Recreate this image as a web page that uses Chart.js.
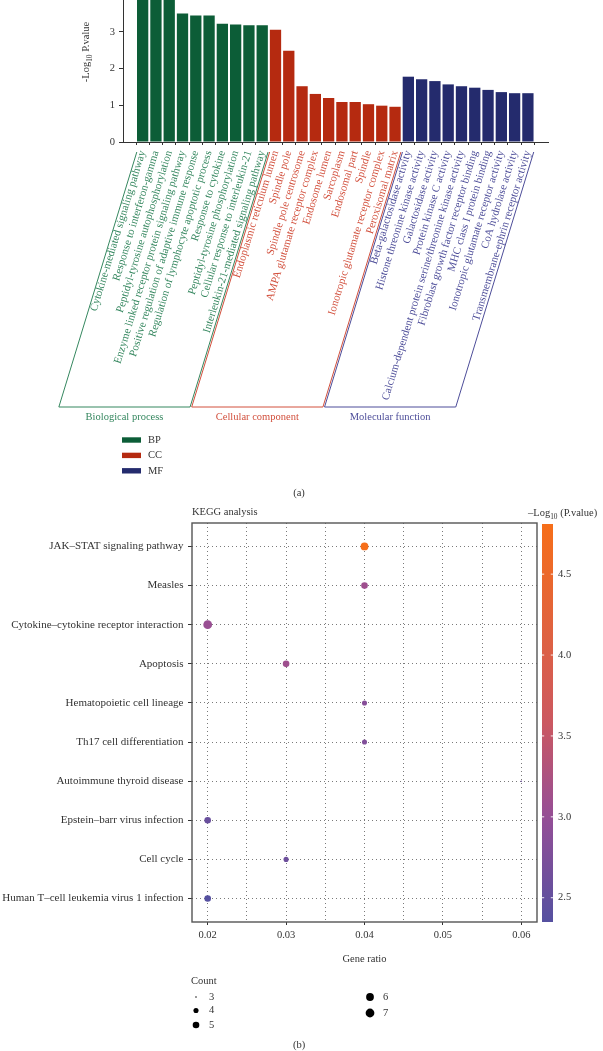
<!DOCTYPE html>
<html><head><meta charset="utf-8">
<script src="https://cdn.jsdelivr.net/npm/chart.js@4"></script>
<style>
html,body{margin:0;padding:0;background:#fff;width:603px;height:1051px;overflow:hidden}
#wa{position:absolute;left:0;top:0;width:603px;height:500px}
#wb{position:absolute;left:0;top:500px;width:603px;height:551px}
</style></head><body>
<div id="wa"><canvas id="ca"></canvas></div>
<div id="wb"><canvas id="cb"></canvas></div>
<script>
// ---------- Panel (a): GO enrichment ----------
const bpTerms = ['Cytokine-mediated signaling pathway','Response to interferon-gamma','Peptidyl-tyrosine autophosphorylation','Enzyme linked receptor protein signaling pathway','Positive regulation of adaptive immune response','Regulation of lymphocyte apoptotic process','Response to cytokine','Peptidyl-tyrosine phosphorylation','Cellular response to interleukin-21','Interleukin-21-mediated signaling pathway'];
const bpValues = [4.8, 4.5, 4.2, 3.5, 3.45, 3.45, 3.22, 3.2, 3.18, 3.18];
const ccTerms = ['Endoplasmic reticulum lumen','Spindle pole','Spindle pole centrosome','AMPA glutamate receptor complex','Endosome lumen','Sarcoplasm','Endosomal part','Spindle','Ionotropic glutamate receptor complex','Peroxisomal matrix'];
const ccValues = [3.06, 2.49, 1.52, 1.31, 1.2, 1.09, 1.09, 1.03, 0.99, 0.96];
const mfTerms = ['Beta-galactosidase activity','Histone threonine kinase activity','Galactosidase activity','Protein kinase C activity','Calcium-dependent protein serine/threonine kinase activity','Fibroblast growth factor receptor binding','MHC class I protein binding','Ionotropic glutamate receptor activity','CoA hydrolase activity','Transmembrane-ephrin receptor activity'];
const mfValues = [1.78, 1.71, 1.66, 1.57, 1.52, 1.48, 1.42, 1.36, 1.33, 1.33];
const yTicksA = [0, 1, 2, 3];
const groupKeys = ['BP', 'CC', 'MF'];
const groupNames = ['Biological process', 'Cellular component', 'Molecular function'];

// ---------- Panel (b): KEGG ----------
const keggPathways = ['JAK–STAT signaling pathway','Measles','Cytokine–cytokine receptor interaction','Apoptosis','Hematopoietic cell lineage','Th17 cell differentiation','Autoimmune thyroid disease','Epstein–barr virus infection','Cell cycle','Human T–cell leukemia virus 1 infection'];
const keggRatio = [0.04, 0.04, 0.02, 0.03, 0.04, 0.04, 0.06, 0.02, 0.03, 0.02];
const keggCount = [6, 5, 7, 5, 4, 4, 3, 5, 4, 5];
const keggLogP = [4.81, 3.1, 3.05, 3.1, 2.85, 2.8, 2.6, 2.55, 2.6, 2.35];
const xTicksB = [0.02, 0.025, 0.03, 0.035, 0.04, 0.045, 0.05, 0.055, 0.06];
const cbTicks = [2.5, 3.0, 3.5, 4.0, 4.5];
const countLegend = [3, 4, 5, 6, 7];

// ---------- styles ----------
const SERIF = "'Liberation Serif', 'DejaVu Serif', serif";
const barColors = ['#0c5d37', '#b52a10', '#242b6d'];
const textColors = ['#35875f', '#d2503d', '#4d4d99'];
const ROT = 73;
const INK = '#333';

function drawSub(ctx, x, y, rot, pre, sub, post, size, color, align) {
  ctx.save();
  ctx.translate(x, y); ctx.rotate(rot);
  ctx.fillStyle = color; ctx.textBaseline = 'alphabetic'; ctx.textAlign = 'left';
  ctx.font = size + 'px ' + SERIF; const w1 = ctx.measureText(pre).width, w3 = ctx.measureText(post).width;
  ctx.font = (size * 0.7) + 'px ' + SERIF; const w2 = ctx.measureText(sub).width;
  const tot = w1 + w2 + w3;
  let s = align === 'center' ? -tot / 2 : (align === 'right' ? -tot : 0);
  const off = size * 0.33;
  ctx.font = size + 'px ' + SERIF; ctx.fillText(pre, s, off);
  ctx.font = (size * 0.7) + 'px ' + SERIF; ctx.fillText(sub, s + w1, off + size * 0.22);
  ctx.font = size + 'px ' + SERIF; ctx.fillText(post, s + w1 + w2, off);
  ctx.restore();
}
function noPad(s) { s.paddingLeft = 0; s.paddingRight = 0; s.paddingTop = 0; s.paddingBottom = 0; }

const allTerms = bpTerms.concat(ccTerms, mfTerms);
const groupSizes = [bpTerms.length, ccTerms.length, mfTerms.length];
const starts = [0, groupSizes[0], groupSizes[0] + groupSizes[1]];
const groupVals = [bpValues, ccValues, mfValues];
const termGrp = allTerms.map((_, i) => i < starts[1] ? 0 : (i < starts[2] ? 1 : 2));

const HA = 500, HB = 551;

const pluginA = {
  id: 'decoA',
  afterDraw(chart) {
    const ctx = chart.ctx, xs = chart.scales.x;
    ctx.save();
    drawSub(ctx, 86, 52, -Math.PI / 2, '-Log', '10', ' P.value', 10.5, INK, 'center');
    const yTop = 152, yBot = 407, k = (yBot - yTop) / Math.tan(ROT * Math.PI / 180);
    groupKeys.forEach((key, g) => {
      const a = starts[g], b = starts[g] + groupSizes[g] - 1;
      const xl = xs.getPixelForValue(a - 0.5) + 0.8, xr = xs.getPixelForValue(b + 0.5) - 0.8;
      ctx.strokeStyle = textColors[g]; ctx.lineWidth = 1;
      ctx.beginPath(); ctx.moveTo(xl, yTop); ctx.lineTo(xl - k, yBot); ctx.lineTo(xr - k, yBot); ctx.lineTo(xr, yTop); ctx.stroke();
      ctx.fillStyle = textColors[g]; ctx.font = '10.5px ' + SERIF; ctx.textAlign = 'center'; ctx.textBaseline = 'middle';
      ctx.fillText(groupNames[g], (xl + xr) / 2 - k, 417);
    });
    chart.data.datasets.forEach((ds, i) => {
      const cy = 440 + i * 15.4;
      ctx.fillStyle = ds.backgroundColor; ctx.fillRect(122, cy - 2.7, 19, 5.4);
      ctx.fillStyle = INK; ctx.textAlign = 'left'; ctx.textBaseline = 'middle'; ctx.font = '10.5px ' + SERIF;
      ctx.fillText(ds.label, 148, cy);
    });
    ctx.textAlign = 'center'; ctx.fillText('(a)', 299, 493);
    ctx.restore();
  }
};

new Chart(document.getElementById('ca'), {
  type: 'bar',
  data: {
    datasets: groupKeys.map((k, g) => ({
      label: k,
      data: groupVals[g].map((v, j) => ({ x: starts[g] + j, y: v })),
      backgroundColor: barColors[g], borderWidth: 0, grouped: false,
      barPercentage: 0.85, categoryPercentage: 1
    }))
  },
  options: {
    responsive: true, maintainAspectRatio: false, animation: false,
    layout: { padding: { top: 0, right: 55, left: 0, bottom: 0 } },
    plugins: { legend: { display: false }, tooltip: { enabled: false } },
    scales: {
      x: {
        type: 'linear', min: -0.946, max: 29.98,
        afterBuildTicks: s => { s.ticks = allTerms.map((_, i) => ({ value: i })); },
        afterFit: s => { s.height = HA - 142; noPad(s); },
        grid: { drawOnChartArea: false, drawTicks: true, tickLength: 3, tickColor: INK, tickWidth: 1 },
        border: { display: true, color: INK, width: 1 },
        ticks: {
          autoSkip: false, minRotation: ROT, maxRotation: ROT, padding: 4,
          font: { family: SERIF, size: 11 },
          color: c => textColors[termGrp[c.index]],
          callback: v => allTerms[Math.round(v)]
        }
      },
      y: {
        min: 0, max: 3.87,
        afterBuildTicks: s => { s.ticks = yTicksA.map(v => ({ value: v })); },
        afterFit: s => { s.width = 123; noPad(s); },
        grid: { drawOnChartArea: false, tickLength: 4, tickColor: INK },
        border: { display: true, color: INK, width: 1 },
        ticks: { padding: 4, color: INK, font: { family: SERIF, size: 10.5 } }
      }
    }
  },
  plugins: [pluginA]
});

// ---------- Panel (b) ----------
const cbMin = Math.min(...keggLogP), cbMax = Math.max(...keggLogP);
const cmap = [[0, [85, 80, 160]], [0.27, [150, 78, 150]], [0.51, [205, 88, 95]], [1, [246, 110, 25]]];
function colorAt(t) {
  t = Math.max(0, Math.min(1, t));
  for (let i = 1; i < cmap.length; i++) {
    if (t <= cmap[i][0]) {
      const [t0, c0] = cmap[i - 1], [t1, c1] = cmap[i];
      const u = (t - t0) / (t1 - t0);
      return 'rgb(' + c0.map((c, j) => Math.round(c + (c1[j] - c) * u)).join(',') + ')';
    }
  }
  return 'rgb(246,110,25)';
}
const sizeOf = c => 0.73 * (1 + 5 * Math.sqrt(Math.max(0, (c - 3) / 4)));

const pluginB = {
  id: 'decoB',
  afterDraw(chart) {
    const ctx = chart.ctx, ca = chart.chartArea;
    ctx.save();
    ctx.strokeStyle = '#555'; ctx.lineWidth = 1.4;
    ctx.strokeRect(ca.left, ca.top, ca.right - ca.left, ca.bottom - ca.top);
    // colorbar
    const cbx = 542, cbw = 11, cbTop = 24, cbBot = 422;
    const grd = ctx.createLinearGradient(0, cbBot, 0, cbTop);
    for (let i = 0; i <= 20; i++) grd.addColorStop(i / 20, colorAt(i / 20));
    ctx.fillStyle = grd; ctx.fillRect(cbx, cbTop, cbw, cbBot - cbTop);
    ctx.font = '10.5px ' + SERIF; ctx.textBaseline = 'middle'; ctx.textAlign = 'left';
    cbTicks.forEach(v => {
      const y = cbBot - (v - cbMin) / (cbMax - cbMin) * (cbBot - cbTop);
      ctx.strokeStyle = 'rgba(255,255,255,0.9)'; ctx.lineWidth = 1;
      ctx.beginPath(); ctx.moveTo(cbx, y); ctx.lineTo(cbx + 2.2, y); ctx.moveTo(cbx + cbw - 2.2, y); ctx.lineTo(cbx + cbw, y); ctx.stroke();
      ctx.fillStyle = INK; ctx.fillText(v.toFixed(1), 558, y);
    });
    drawSub(ctx, 528, 13, 0, '–Log', '10', ' (P.value)', 10.5, INK, 'left');
    ctx.fillStyle = INK; ctx.font = '10.5px ' + SERIF; ctx.textAlign = 'left'; ctx.textBaseline = 'middle';
    ctx.fillText('KEGG analysis', 192, 12);
    ctx.textAlign = 'center';
    ctx.fillText('Gene ratio', (ca.left + ca.right) / 2, 459);
    // size legend
    ctx.textAlign = 'left';
    ctx.fillText('Count', 191, 481);
    const pos = [[196, 497], [196, 510.5], [196, 525], [370, 497], [370, 513]];
    countLegend.forEach((c, i) => {
      const [px, py] = pos[i];
      ctx.fillStyle = '#000'; ctx.beginPath(); ctx.arc(px, py, sizeOf(c), 0, Math.PI * 2); ctx.fill();
      ctx.fillStyle = INK; ctx.fillText(String(c), px + 13, py);
    });
    ctx.textAlign = 'center';
    ctx.fillText('(b)', 299, 545);
    ctx.restore();
  }
};

new Chart(document.getElementById('cb'), {
  type: 'bubble',
  data: {
    datasets: [{
      data: keggPathways.map((p, i) => ({ x: keggRatio[i], y: i, r: sizeOf(keggCount[i]) })),
      backgroundColor: c => colorAt((keggLogP[c.dataIndex] - cbMin) / (cbMax - cbMin)),
      borderWidth: 0
    }]
  },
  options: {
    responsive: true, maintainAspectRatio: false, animation: false,
    layout: { padding: { top: 23, right: 66, left: 0, bottom: 0 } },
    plugins: { legend: { display: false }, tooltip: { enabled: false } },
    scales: {
      x: {
        type: 'linear', min: 0.018, max: 0.062,
        afterBuildTicks: s => { s.ticks = xTicksB.map(v => ({ value: v })); },
        afterFit: s => { s.height = HB - 422; noPad(s); },
        grid: { color: '#7a7a7a', lineWidth: 1, tickLength: 3, tickColor: c => (Math.round(c.tick.value * 1000) % 10 === 0 ? INK : 'rgba(0,0,0,0)') },
        border: { display: false, dash: [1, 3] },
        ticks: { autoSkip: false, padding: 4, color: INK, font: { family: SERIF, size: 10.5 },
          callback: v => (Math.round(v * 1000) % 10 === 0 ? v.toFixed(2) : '') }
      },
      y: {
        type: 'linear', reverse: true, min: -0.6, max: 9.6,
        afterBuildTicks: s => { s.ticks = keggPathways.map((_, i) => ({ value: i })); },
        afterFit: s => { s.width = 192; noPad(s); },
        grid: { color: '#7a7a7a', lineWidth: 1, tickLength: 4, tickColor: INK },
        border: { display: false, dash: [1, 3] },
        ticks: { autoSkip: false, padding: 4.5, color: INK, font: { family: SERIF, size: 11 },
          callback: v => keggPathways[Math.round(v)] }
      }
    }
  },
  plugins: [pluginB]
});
</script>
</body></html>
